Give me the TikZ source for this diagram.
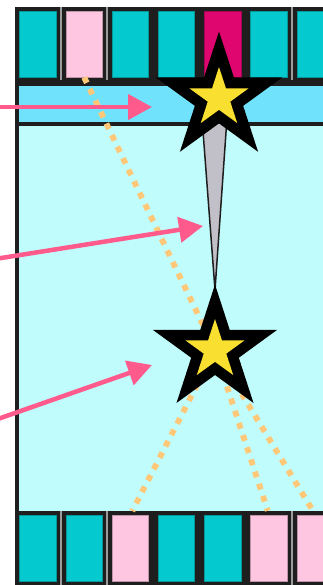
\documentclass[tikz,border=0pt]{standalone}
\usetikzlibrary{shapes.geometric,arrows.meta,calc}

\definecolor{framedark}{HTML}{1E1E1E}
\definecolor{tealcell}{HTML}{04C9CE}
\definecolor{pinkcell}{HTML}{FFC6E2}
\definecolor{magcell}{HTML}{DF0670}
\definecolor{bandblue}{HTML}{70E2FB}
\definecolor{roomcyan}{HTML}{C0FCFC}
\definecolor{needlegray}{HTML}{C1BFC7}
\definecolor{stargold}{HTML}{F9E030}
\definecolor{arrowpink}{HTML}{FF5A8C}
\definecolor{dotorange}{HTML}{FFC878}
\definecolor{sepgray}{HTML}{9C9C9C}

\begin{document}
\begin{tikzpicture}[x=1pt, y=-1pt,
  cell/.style={draw=#1!75!black, fill=#1, line width=0.8pt,
    minimum width=36.5pt, minimum height=66pt, inner sep=0pt},
  bigstar/.style={star, star points=5, star point ratio=2.618,
    inner sep=0pt, fill=black, minimum size=#1},
  goldstar/.style={star, star points=5, star point ratio=2.618,
    inner sep=0pt, fill=stargold, minimum size=62pt},
  dotline/.style={dotorange, line width=5.8pt, dash pattern=on 6pt off 6.8pt},
  pointer/.style={arrowpink, line width=4.5pt,
    -{Triangle[length=24pt,width=25pt]}},
  needle/.style={fill=needlegray, draw=framedark, line width=1.5pt, line join=round}]

  \useasboundingbox (0,0) rectangle (323,585);
  \clip (0,0) rectangle (323,585);

  % Frame
  \fill[framedark] (15,7) rectangle (345,585);
  \fill[bandblue] (19,86) rectangle (345,122);
  \fill[roomcyan] (19,126) rectangle (345,511);

  % Separators
  \foreach \x in {61,107,292} {
    \draw[sepgray, line width=2pt] (\x,7) -- (\x,80);
    \draw[sepgray, line width=2pt] (\x,511) -- (\x,585);
  }

  % Top row
  \foreach \c [count=\i] in {tealcell,pinkcell,tealcell,tealcell,magcell,tealcell,tealcell}
    \node[cell=\c] (top\i) at ({38+46.2*(\i-1)}, 44) {};

  % Bottom row
  \foreach \c [count=\i] in {tealcell,tealcell,pinkcell,tealcell,tealcell,pinkcell,pinkcell}
    \node[cell=\c] (bot\i) at ({38+46.2*(\i-1)}, 548) {};

  % Star centres
  \coordinate (startop) at (219,98);
  \coordinate (starbot) at (215,350);

  % Dotted links
  \draw[dotline] (top2.south) -- (starbot);
  \foreach \j in {3,6,7}
    \draw[dotline, shorten >=4pt] (starbot) -- (bot\j.north);

  % Needle
  \draw[needle] ($(startop)+(-17,20)$) -- ($(startop)+(8,20)$)
    -- ($(starbot)+(0,-60)$) -- cycle;

  % Stars
  \node[bigstar=133pt] (topstar) at (startop) {};
  \node[goldstar] (topgold) at (startop) {};
  \node[bigstar=131pt] (botstar) at (starbot) {};
  \node[goldstar] (botgold) at (starbot) {};

  % Pointers
  \coordinate (tailband) at (-5,107);
  \coordinate (tipband) at (152,107);
  \coordinate (tailneedle) at (-5,259);
  \coordinate (tipneedle) at (203,226);
  \coordinate (tailroom) at (-5,420);
  \coordinate (tiproom) at (152,365);
  \draw[pointer] (tailband) -- (tipband);
  \draw[pointer] (tailneedle) -- (tipneedle);
  \draw[pointer] (tailroom) -- (tiproom);
\end{tikzpicture}
\end{document}
